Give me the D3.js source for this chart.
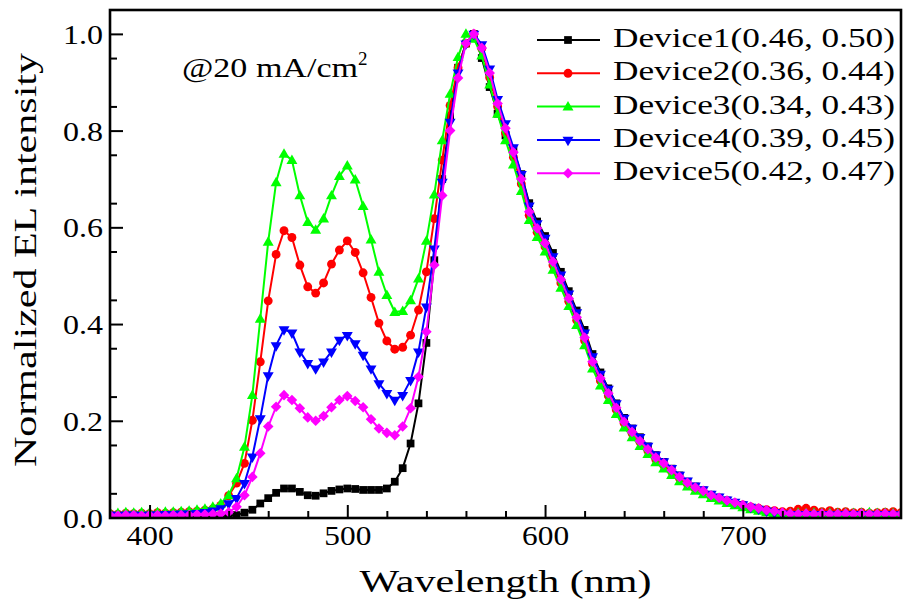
<!DOCTYPE html>
<html><head><meta charset="utf-8">
<script src="https://cdn.jsdelivr.net/npm/d3@7"></script>
<style>body{margin:0;background:#fff}svg{display:block}</style>
</head><body>
<script>
const wavelengths = d3.range(380, 781, 4);
const device1 = [0.004,0.003,0.004,0.003,0.004,0.003,0.004,0.003,0.004,0.004,0.003,0.004,0.004,0.003,0.004,
 0.003,0.005,0.010,0.016,0.029,0.040,0.051,0.060,0.060,0.053,0.046,0.045,0.050,0.055,0.058,0.060,0.059,0.057,0.057,0.057,0.060,0.074,0.102,0.153,0.236,0.361,
 0.532,0.700,0.830,0.930,0.980,1.000,0.950,0.890,0.835,0.790,0.760,0.710,0.650,0.612,0.582,0.547,0.508,0.468,0.428,0.388,
 0.338,0.300,0.267,0.236,0.206,0.184,0.166,0.147,0.129,0.115,0.101,0.087,0.074,0.064,0.056,0.047,0.041,0.035,0.030,0.025,
 0.020,0.016,0.012,0.009,0.006,0.005,0.004,0.004,0.005,0.004,0.004,0.005,0.004,0.004,0.005,0.004,0.004,0.005,0.004,0.004];
const device2 = [0.008,0.007,0.009,0.008,0.009,0.008,0.010,0.009,0.010,0.011,0.012,0.013,0.015,0.018,0.025,
 0.045,0.071,0.112,0.201,0.322,0.448,0.544,0.593,0.579,0.522,0.477,0.464,0.485,0.524,0.553,0.572,0.548,0.506,0.455,0.402,0.365,0.348,0.352,0.377,0.429,0.508,
 0.618,0.739,0.852,0.930,0.980,1.000,0.970,0.910,0.850,0.795,0.745,0.690,0.625,0.590,0.560,0.522,0.485,0.447,0.408,0.366,
 0.318,0.283,0.252,0.223,0.195,0.174,0.156,0.138,0.120,0.108,0.095,0.081,0.069,0.059,0.053,0.045,0.040,0.034,0.030,0.026,
 0.022,0.019,0.016,0.014,0.012,0.013,0.017,0.019,0.015,0.012,0.014,0.011,0.012,0.010,0.011,0.009,0.010,0.011,0.012,0.010];
const device3 = [0.010,0.009,0.011,0.010,0.011,0.010,0.011,0.012,0.012,0.013,0.014,0.016,0.018,0.022,0.029,
 0.046,0.081,0.146,0.253,0.411,0.570,0.693,0.752,0.739,0.666,0.611,0.595,0.618,0.666,0.706,0.728,0.699,0.644,0.575,0.508,0.460,0.425,0.427,0.449,0.494,0.572,
 0.668,0.780,0.876,0.952,1.000,0.990,0.955,0.895,0.835,0.780,0.730,0.675,0.615,0.580,0.550,0.512,0.475,0.437,0.398,0.356,
 0.308,0.273,0.243,0.214,0.186,0.166,0.148,0.131,0.114,0.101,0.088,0.075,0.064,0.055,0.048,0.040,0.035,0.030,0.025,0.021,
 0.017,0.014,0.011,0.009,0.008,0.009,0.010,0.009,0.010,0.009,0.010,0.009,0.010,0.009,0.010,0.011,0.009,0.010,0.009,0.010];
const device4 = [0.006,0.005,0.006,0.006,0.005,0.006,0.006,0.007,0.007,0.008,0.008,0.009,0.011,0.014,0.019,
 0.029,0.040,0.071,0.126,0.205,0.294,0.356,0.389,0.382,0.343,0.319,0.308,0.322,0.343,0.367,0.377,0.360,0.336,0.308,0.277,0.257,0.243,0.253,0.284,0.343,0.436,
 0.556,0.694,0.818,0.920,0.980,1.000,0.978,0.928,0.865,0.815,0.765,0.710,0.645,0.608,0.578,0.540,0.502,0.463,0.424,0.382,
 0.333,0.297,0.266,0.236,0.206,0.185,0.166,0.148,0.130,0.116,0.102,0.088,0.076,0.066,0.058,0.049,0.043,0.037,0.032,0.027,
 0.022,0.018,0.014,0.011,0.008,0.007,0.006,0.007,0.006,0.007,0.006,0.006,0.007,0.006,0.007,0.006,0.006,0.007,0.006,0.006];
const device5 = [0.005,0.004,0.005,0.005,0.004,0.005,0.005,0.004,0.005,0.005,0.005,0.006,0.006,0.007,0.008,
 0.011,0.022,0.046,0.084,0.133,0.188,0.229,0.253,0.243,0.226,0.207,0.200,0.210,0.228,0.243,0.251,0.241,0.228,0.203,0.184,0.175,0.170,0.188,0.226,0.291,0.384,
 0.522,0.666,0.800,0.909,0.980,1.000,0.971,0.919,0.856,0.805,0.755,0.700,0.632,0.598,0.567,0.529,0.492,0.453,0.414,0.372,
 0.322,0.288,0.257,0.227,0.198,0.177,0.158,0.141,0.124,0.112,0.098,0.084,0.072,0.062,0.055,0.046,0.041,0.035,0.031,0.026,
 0.022,0.019,0.015,0.013,0.010,0.008,0.007,0.008,0.007,0.008,0.007,0.007,0.008,0.007,0.008,0.007,0.007,0.008,0.007,0.007];
const seriesNames = ["Device1(0.46, 0.50)","Device2(0.36, 0.44)","Device3(0.34, 0.43)","Device4(0.39, 0.45)","Device5(0.42, 0.47)"];
const seriesValues = [device1, device2, device3, device4, device5];
const seriesColors = ["#000000","#ff0000","#00ff00","#0000ff","#ff00ff"];
const seriesMarkers = ["square","circle","triangle","triangleDown","diamond"];
const xMajorTicks = [400, 500, 600, 700];
const yMajorTicks = [0, 0.2, 0.4, 0.6, 0.8, 1.0];
const annotation = "@20 mA/cm";

const W = 909, H = 609;
const L = 110, R = 901, T = 10, B = 518;
const FONT = "'Liberation Serif', 'DejaVu Serif', serif";

const svg = d3.select("body").append("svg").attr("width", W).attr("height", H);
const x = d3.scaleLinear().domain([380, 780]).range([L, R]);
const y = d3.scaleLinear().domain([0, 1.05]).range([517.5, 9.7]);

function markerPath(kind) {
  if (kind === "square") return d3.symbol(d3.symbolSquare, 60)();
  if (kind === "circle") return d3.symbol(d3.symbolCircle, 62)();
  if (kind === "triangle" || kind === "triangleDown") return d3.symbol(d3.symbolTriangle, 52)();
  return d3.symbol(d3.symbolSquare, 56)();
}
function markerTransform(kind, px, py) {
  if (kind === "triangleDown") return `translate(${px},${py}) rotate(180)`;
  if (kind === "diamond") return `translate(${px},${py}) rotate(45)`;
  if (kind === "triangle") return `translate(${px},${py+0.8})`;
  return `translate(${px},${py})`;
}

svg.append("clipPath").attr("id","clip").append("rect").attr("x",L).attr("y",T).attr("width",R-L).attr("height",B-T);

const plot = svg.append("g").attr("clip-path","url(#clip)");
const line = d3.line().x((d,i)=>x(wavelengths[i])).y(d=>y(d));
seriesValues.forEach((vals, s) => {
  const g = plot.append("g");
  g.append("path").attr("d", line(vals)).attr("fill","none")
    .attr("stroke", seriesColors[s]).attr("stroke-width", 2).attr("stroke-linejoin","round");
  const p = markerPath(seriesMarkers[s]);
  g.selectAll("path.m").data(vals).join("path").attr("class","m")
    .attr("d", p).attr("fill", seriesColors[s])
    .attr("transform", (d,i)=>markerTransform(seriesMarkers[s], x(wavelengths[i]), y(d)));
});

// axes
const xAxis = d3.axisBottom(x).tickValues(xMajorTicks).tickFormat(d3.format("d")).tickSizeInner(-13).tickSizeOuter(0).tickPadding(10);
const gx = svg.append("g").attr("transform",`translate(0,${B})`).call(xAxis);
gx.select(".domain").remove();
gx.selectAll(".tick line").attr("stroke","#000").attr("stroke-width",2);
gx.selectAll(".tick text").attr("font-family",FONT).attr("font-size",28).attr("fill","#000")
  .attr("y",27).attr("dy","0").attr("textLength",47).attr("lengthAdjust","spacingAndGlyphs");
const xMinor = d3.axisBottom(x).tickValues(d3.range(420, 780, 20).filter(v=>v%100!==0)).tickFormat("").tickSizeInner(-7).tickSizeOuter(0);
const gxm = svg.append("g").attr("transform",`translate(0,${B})`).call(xMinor);
gxm.select(".domain").remove();
gxm.selectAll(".tick line").attr("stroke","#000").attr("stroke-width",2);

const yAxis = d3.axisLeft(y).tickValues(yMajorTicks).tickFormat(d3.format(".1f")).tickSizeInner(-13).tickSizeOuter(0).tickPadding(7);
const gy = svg.append("g").attr("transform",`translate(${L},0)`).call(yAxis);
gy.select(".domain").remove();
gy.selectAll(".tick line").attr("stroke","#000").attr("stroke-width",2);
gy.selectAll(".tick text").attr("font-family",FONT).attr("font-size",28).attr("fill","#000")
  .attr("dy","0.34em").attr("textLength",40).attr("lengthAdjust","spacingAndGlyphs");
const yMinor = d3.axisLeft(y).tickValues(d3.range(0.05, 1.05, 0.1)).tickFormat("").tickSizeInner(-7).tickSizeOuter(0);
const gym = svg.append("g").attr("transform",`translate(${L},0)`).call(yMinor);
gym.select(".domain").remove();
gym.selectAll(".tick line").attr("stroke","#000").attr("stroke-width",2);

svg.append("rect").attr("x",L).attr("y",T).attr("width",R-L).attr("height",B-T)
  .attr("fill","none").attr("stroke","#000").attr("stroke-width",2.6);

// titles
svg.append("text").attr("x",(L+R)/2).attr("y",592).attr("text-anchor","middle")
  .attr("font-family",FONT).attr("font-size",32)
  .attr("textLength",292).attr("lengthAdjust","spacingAndGlyphs").text("Wavelength (nm)");
svg.append("text").attr("transform","translate(36,260) rotate(-90)").attr("text-anchor","middle")
  .attr("font-family",FONT).attr("font-size",32)
  .attr("textLength",414).attr("lengthAdjust","spacingAndGlyphs").text("Normalized EL intensity");

// annotation
const ann = svg.append("text").attr("x",182).attr("y",77).attr("font-family",FONT).attr("font-size",27);
ann.append("tspan").attr("textLength",176).attr("lengthAdjust","spacingAndGlyphs").text(annotation);
ann.append("tspan").attr("font-size",19).attr("dy",-12).text("2");

// legend
const legY0 = 40, legDY = 33.3;
seriesNames.forEach((name, s) => {
  const ly = legY0 + s*legDY;
  const g = svg.append("g");
  g.append("line").attr("x1",537).attr("x2",600).attr("y1",ly).attr("y2",ly)
    .attr("stroke",seriesColors[s]).attr("stroke-width",2);
  g.append("path").attr("d", markerPath(seriesMarkers[s])).attr("fill",seriesColors[s])
    .attr("transform", markerTransform(seriesMarkers[s], 568, ly));
  g.append("text").attr("x",613).attr("y",ly+7).attr("font-family",FONT).attr("font-size",27.5)
    .attr("fill","#000").attr("textLength",282).attr("lengthAdjust","spacingAndGlyphs").text(name);
});
</script>
</body></html>
